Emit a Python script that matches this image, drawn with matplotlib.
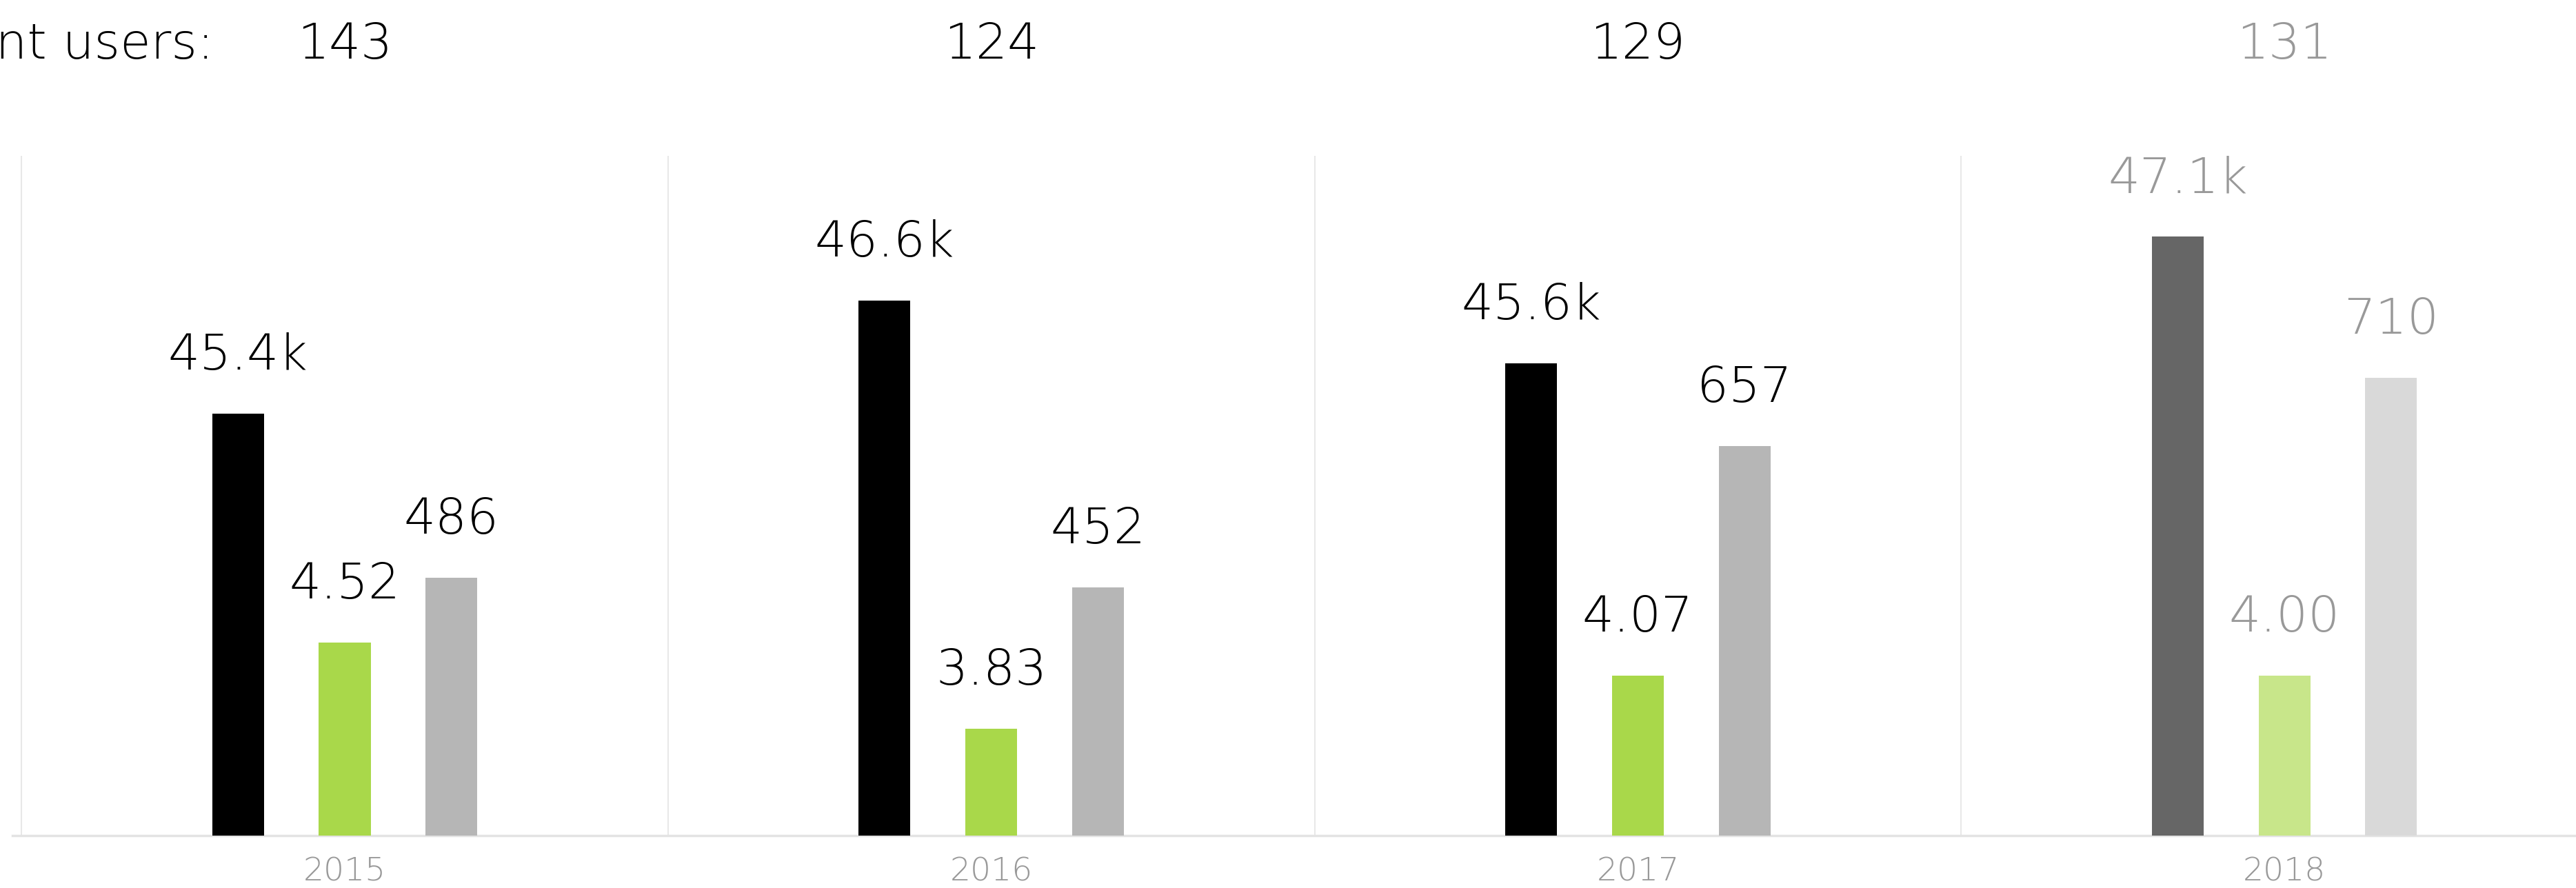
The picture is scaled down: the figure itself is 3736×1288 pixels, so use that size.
import matplotlib
matplotlib.use("Agg")
import matplotlib.pyplot as plt

# values
years = ["2015", "2016", "2017", "2018"]
users = ["143", "124", "129", "131"]

# bar heights as drawn, in % of the panel height
black_h = [62.1, 78.7, 69.5, 88.1]
green_h = [28.4, 15.7, 23.5, 23.5]
grey_h = [37.9, 36.5, 57.3, 67.3]

black_lbl = ["45.4k", "46.6k", "45.6k", "47.1k"]
green_lbl = ["4.52", "3.83", "4.07", "4.00"]
grey_lbl = ["486", "452", "657", "710"]

# last year is shown faded
black_col = ["#000000", "#000000", "#000000", "#666666"]
green_col = ["#a9d84a", "#a9d84a", "#a9d84a", "#c8e68a"]
grey_col = ["#b6b6b6", "#b6b6b6", "#b6b6b6", "#d9d9d9"]
text_col = ["#000000", "#000000", "#000000", "#999999"]

plt.rcParams['font.family'] = ['DejaVu Sans']
plt.rcParams['font.weight'] = 'light'

W, H = 3736, 1288
fig = plt.figure(figsize=(W / 100, H / 100), dpi=100)

base_px, top_px, left_px = 1211.6, 226, 18
ax = fig.add_axes([left_px / W, (H - base_px) / H, (W - left_px) / W, (base_px - top_px) / H])

step = 937.7
x0 = (left_px - 500) / step
x1 = (W - 500) / step
ax.set_xlim(x0, x1)
ax.set_ylim(0, 100)

off = 0.165
bw = 0.08
xs = list(range(len(years)))

for i in xs:
    for dx, h, lbl, col in [(-off, black_h[i], black_lbl[i], black_col[i]),
                            (0, green_h[i], green_lbl[i], green_col[i]),
                            (off, grey_h[i], grey_lbl[i], grey_col[i])]:
        ax.bar(i + dx, h, width=bw, color=col, zorder=3)
        ax.annotate(lbl, (i + dx, h), xytext=(0, 46), textcoords="offset points",
                    ha="center", va="baseline", fontsize=52, color=text_col[i],
                    annotation_clip=False)

# panel separators
for i in xs:
    ax.axvline(i - 0.5, color="#e8e8e8", lw=1.5, zorder=1)

for s in ["top", "right", "left"]:
    ax.spines[s].set_visible(False)
ax.spines["bottom"].set_color("#e3e3e3")
ax.spines["bottom"].set_linewidth(2.5)

ax.set_yticks([])
ax.set_xticks(xs)
ax.set_xticklabels(years, fontsize=34, color="#999999")
ax.tick_params(axis="x", length=0, pad=22)

# users row on top
fig.text(310 / W, 1 - 85 / H, "Current users:", ha="right", va="baseline",
         fontsize=52, color="#000000")
for i in xs:
    fx = (left_px + (i - x0) * step) / W
    fig.text(fx, 1 - 85 / H, users[i], ha="center", va="baseline",
             fontsize=52, color=text_col[i])

fig.savefig("out.png", dpi=100, facecolor="white")
